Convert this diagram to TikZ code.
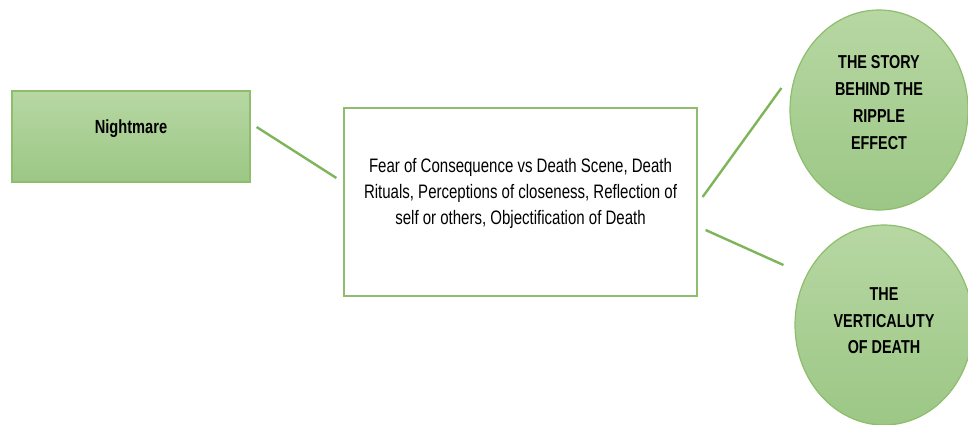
\documentclass[tikz,border=0pt]{standalone}
\usepackage{fontspec}
\setmainfont{Liberation Sans}[FakeStretch=0.77]
\usetikzlibrary{shapes.geometric}
\definecolor{leafTop}{HTML}{B7D7A3}
\definecolor{leafBot}{HTML}{9CC785}
\definecolor{leafEdge}{HTML}{8DBD6D}
\definecolor{leafLine}{HTML}{7FB55A}

\begin{document}
\begin{tikzpicture}[x=1pt,y=-1pt,
        greenbox/.style={draw=leafEdge,line width=1.2pt,top color=leafTop,bottom color=leafBot,inner sep=0pt},
        whitebox/.style={draw=leafEdge,line width=1.2pt,fill=white,inner sep=0pt},
        greenball/.style={ellipse,draw=leafEdge,line width=1.2pt,top color=leafTop,bottom color=leafBot,inner sep=0pt,minimum width=178pt,minimum height=200pt},
        link/.style={draw=leafLine,line width=2.4pt}]
            \useasboundingbox (0,0) rectangle (968,425);
            \node at (131,136.5)[greenbox,minimum width=238pt,minimum height=91pt,
                label={[yshift=8pt,font=\fontsize{19}{26}\selectfont\bfseries]center:Nightmare}](night){};
            \node at (520.5,202)[whitebox,minimum width=353pt,minimum height=188pt,
                label={[yshift=9pt,align=center,font=\fontsize{19.5}{26}\selectfont]center:Fear of Consequence vs Death Scene, Death\\Rituals, Perceptions of closeness, Reflection of\\self or others, Objectification of Death}](mid){};
            \node at (879,110)[greenball,
                label={[yshift=7pt,align=center,font=\fontsize{18.7}{27}\selectfont\bfseries]center:THE STORY\\BEHIND THE\\RIPPLE\\EFFECT}](ripple){};
            \node at (884,325)[greenball,
                label={[yshift=4pt,align=center,font=\fontsize{18.7}{26.5}\selectfont\bfseries]center:THE\\VERTICALUTY\\OF DEATH}](vertical){};
            \draw[link] ([shift={(6,-9.5)}]night.east)--([shift={(-7,-24)}]mid.west);
            \draw[link] ([shift={(5,-5)}]mid.east)--([shift={(-8,-22)}]ripple.west);
            \draw[link] ([shift={(8,28)}]mid.east)--([shift={(-11,-60)}]vertical.west);
        \end{tikzpicture}
\end{document}
